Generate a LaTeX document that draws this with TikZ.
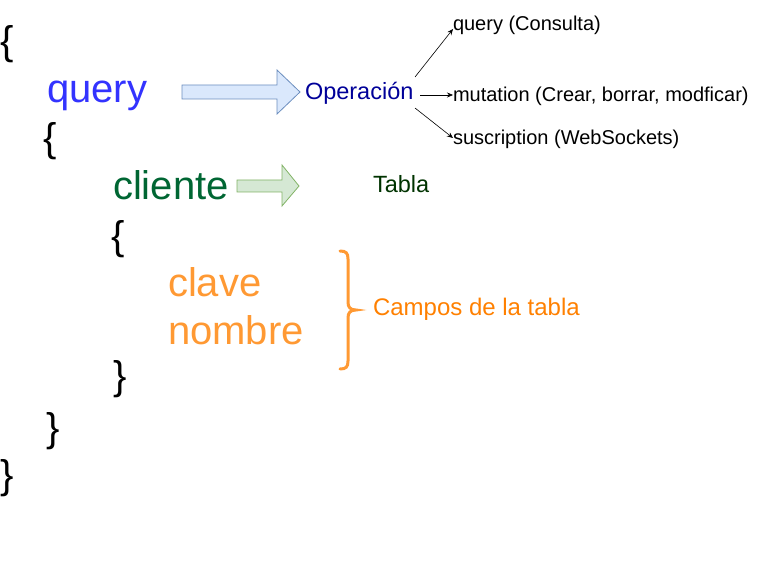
\documentclass[tikz,border=0pt]{standalone}
\usepackage{fontspec}
\setmainfont{Liberation Sans}
\usetikzlibrary{arrows.meta}
\definecolor{qblue}{HTML}{3333FF}
\definecolor{opblue}{HTML}{000099}
\definecolor{cgreen}{HTML}{006633}
\definecolor{tgreen}{HTML}{003300}
\definecolor{corange}{HTML}{FF9933}
\definecolor{torange}{HTML}{FF8000}
\definecolor{bfill}{HTML}{DAE8FC}
\definecolor{bline}{HTML}{6C8EBF}
\definecolor{gfill}{HTML}{D5E8D4}
\definecolor{gline}{HTML}{82B366}
\tikzset{
  txt/.style={anchor=base west, inner sep=0pt, outer sep=0pt},
  big/.style={txt, font=\fontsize{40}{48}\selectfont},
  small/.style={txt, font=\fontsize{20}{24}\selectfont},
  conn/.style={-{Stealth[length=6pt,width=5pt]}, line width=0.6pt, black},
}
\begin{document}
\begin{tikzpicture}[x=1pt,y=-1pt]
\useasboundingbox (0,0) rectangle (762,561);
% braces
\node[big] (b1) at (1,55) {\{};
\node[big] (b2) at (43,152) {\{};
\node[big] (b3) at (111,249) {\{};
\node[big] (b4) at (113,389) {\}};
\node[big] (b5) at (46,441) {\}};
\node[big] (b6) at (1,488) {\}};
% keywords
\node[big, text=qblue] (query) at (47,103) {query};
\node[big, text=cgreen] (cliente) at (113,200) {cliente};
\node[big, text=corange] (clave) at (168,296) {clave};
\node[big, text=corange] (nombre) at (168,344) {nombre};
% block arrows
\draw[bline, fill=bfill, line width=0.8pt] (182,85) -- (277,85) -- (277,70) -- (300,92) -- (277,114) -- (277,99) -- (182,99) -- cycle;
\draw[gline, fill=gfill, line width=0.8pt] (237,180) -- (282,180) -- (282,165) -- (299,186) -- (282,206) -- (282,192) -- (237,192) -- cycle;
% labels
\node[txt, text=opblue, font=\fontsize{23.5}{28}\selectfont] (op) at (305,100) {Operación};
\node[small] (q) at (453,31) {query (Consulta)};
\node[small] (m) at (453,102) {mutation (Crear, borrar, modficar)};
\node[small] (s) at (453,145) {suscription (WebSockets)};
\node[txt, text=tgreen, font=\fontsize{23.5}{28}\selectfont] (tabla) at (373,193) {Tabla};
\node[txt, text=torange, font=\fontsize{24}{29}\selectfont] (campos) at (373,315) {Campos de la tabla};
% connectors
\coordinate (opq) at (415,77);
\coordinate (opm) at (420,95);
\coordinate (ops) at (415,108);
\draw[conn] (opq) -- (q.west |- 0,29);
\draw[conn] (opm) -- (m.west |- 0,95);
\draw[conn] (ops) -- (s.west |- 0,138);
% orange brace
\draw[corange, line width=3pt, line cap=round] (340,251) .. controls (346,251) and (348,253) .. (348,259) -- (348,302) .. controls (348,307) and (350,310) .. (356,310) .. controls (350,310) and (348,313) .. (348,318) -- (348,361) .. controls (348,367) and (346,369) .. (340,369);
\end{tikzpicture}
\end{document}
